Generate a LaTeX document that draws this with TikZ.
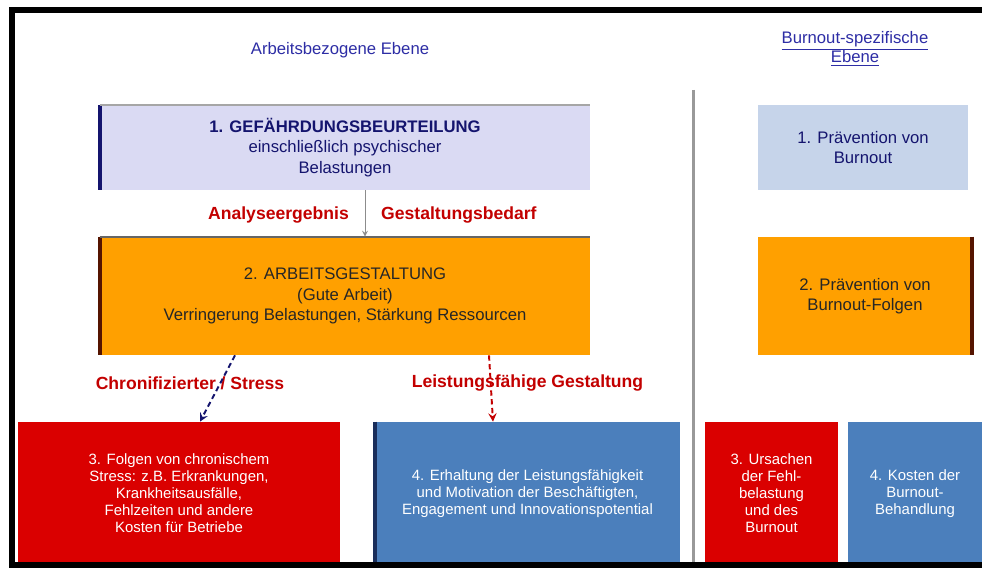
\documentclass[tikz,border=0pt]{standalone}
\usepackage{fontspec}
\setmainfont{Liberation Sans}
\definecolor{lavbox}{RGB}{218,218,243}
\definecolor{orgbox}{RGB}{255,160,0}
\definecolor{skybox}{RGB}{198,212,234}
\definecolor{redbox}{RGB}{218,0,0}
\definecolor{bluebox}{RGB}{75,127,188}
\definecolor{headblue}{RGB}{45,45,165}
\definecolor{textnavy}{RGB}{20,20,110}
\definecolor{labelred}{RGB}{195,0,0}
\definecolor{edgebrown}{RGB}{85,20,0}
\definecolor{edgenavy}{RGB}{25,45,90}
\tikzset{
  panel/.style={rectangle, inner sep=0pt, align=center, font=\fontsize{9.5}{11.5}\selectfont},
  lavpanel/.style={panel, fill=lavbox, text=textnavy, minimum width=9.8cm, minimum height=1.7cm},
  orgpanel/.style={panel, fill=orgbox, text=black!85, minimum width=9.8cm, minimum height=2.36cm},
  redpanel/.style={panel, fill=redbox, text=white, minimum height=2.86cm, font=\fontsize{8.5}{9.7}\selectfont},
  bluepanel/.style={panel, fill=bluebox, text=white, minimum height=2.86cm, font=\fontsize{8.5}{9.7}\selectfont},
  header/.style={text=headblue, align=center, font=\fontsize{9.5}{11}\selectfont},
  flowlabel/.style={text=labelred, font=\fontsize{10}{12}\selectfont\bfseries},
  sideedge/.style={line width=0.08cm, line cap=butt},
  frameline/.style={line width=0.13cm, draw=black},
  divider/.style={line width=0.06cm, draw=black!40},
  tiparrow/.style={line width=0.5pt, draw=black!45, -stealth},
  bluedash/.style={line width=1.1pt, draw=textnavy, densely dashed, -stealth},
  reddash/.style={line width=1.1pt, draw=labelred, densely dashed, -stealth},
}
\begin{document}
\begin{tikzpicture}
\useasboundingbox (0,0) rectangle (19.640,11.340);
\fill[white] (0,0) rectangle (19.640,11.340);
\node[header] (lefthead) at (6.800,10.340) {Arbeitsbezogene Ebene};
\node[header] (righthead) at (17.100,10.360) {\underline{Burnout-spezifische}\\\underline{Ebene}};
\node[lavpanel] (one) at (6.900,8.390) {\bfseries 1. GEFÄHRDUNGSBEURTEILUNG\\einschließlich psychischer\\Belastungen};
\node[orgpanel] (two) at (6.900,5.420) {2. ARBEITSGESTALTUNG\\(Gute Arbeit)\\Verringerung Belastungen, Stärkung Ressourcen};
\node[panel, fill=skybox, text=textnavy, minimum width=4.2cm, minimum height=1.7cm] (rone) at (17.260,8.390) {1. Prävention von\\Burnout};
\node[orgpanel, minimum width=4.28cm] (rtwo) at (17.300,5.420) {2. Prävention von\\Burnout-Folgen};
\node[redpanel, minimum width=6.44cm] (three) at (3.580,1.470) {3. Folgen von chronischem\\Stress: z.B. Erkrankungen,\\Krankheitsausfälle,\\Fehlzeiten und andere\\Kosten für Betriebe};
\node[bluepanel, minimum width=6.10cm] (four) at (10.550,1.470) {4. Erhaltung der Leistungsfähigkeit\\und Motivation der Beschäftigten,\\Engagement und Innovationspotential};
\node[redpanel, minimum width=2.66cm] (rthree) at (15.430,1.470) {3. Ursachen\\der Fehl-\\belastung\\und des\\Burnout};
\node[bluepanel, minimum width=2.68cm] (rfour) at (18.300,1.470) {4. Kosten der\\Burnout-\\Behandlung};
\draw[sideedge, draw=textnavy] (one.north west) -- (one.south west);
\draw[line width=0.04cm, draw=black!35] (one.north west) -- (one.north east);
\draw[sideedge, draw=edgebrown] (two.north west) -- (two.south west);
\draw[line width=0.04cm, draw=black!60] (two.north west) -- (two.north east);
\draw[sideedge, draw=edgebrown] (rtwo.north east) -- (rtwo.south east);
\draw[sideedge, draw=edgenavy] (four.north west) -- (four.south west);
\draw[divider] (13.860,9.540) -- (13.860,0.040);
\draw[frameline] (19.900,11.140) -- (0.240,11.140) -- (0.240,0.040) -- (19.900,0.040);
\node[flowlabel, anchor=east] (ana) at (7.100,7.040) {Analyseergebnis};
\node[flowlabel, anchor=west] (ges) at (7.500,7.040) {Gestaltungsbedarf};
\coordinate (gapx) at (7.300,7.040);
\draw[tiparrow] (one.south -| gapx) -- (two.north -| gapx);
\node[flowlabel] (stress) at (3.800,3.680) {Chronifizierter / Stress};
\node[flowlabel] (leist) at (10.550,3.680) {Leistungsfähige Gestaltung};
\coordinate (dashtop) at (4.700,4.240);
\coordinate (dashbot) at (4.000,2.900);
\draw[bluedash] (two.south -| dashtop) -- (three.north -| dashbot);
\coordinate (rdashtop) at (9.780,4.240);
\coordinate (rdashbot) at (9.860,2.900);
\draw[reddash] (two.south -| rdashtop) -- (four.north -| rdashbot);
\end{tikzpicture}
\end{document}
